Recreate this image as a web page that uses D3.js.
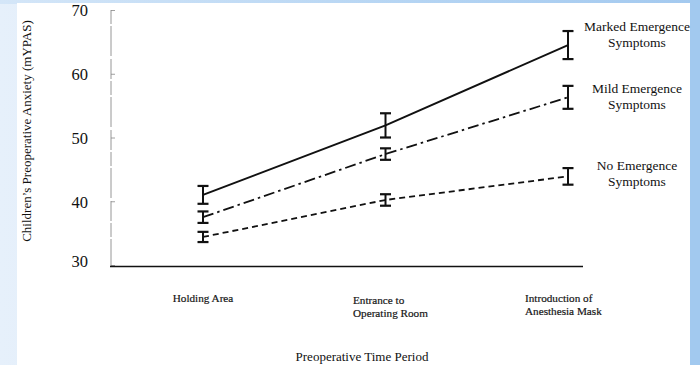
<!DOCTYPE html>
<html>
<head>
<meta charset="utf-8">
<script src="https://cdn.jsdelivr.net/npm/d3@7"></script>
<style>
  html, body { margin: 0; padding: 0; }
  body { width: 700px; height: 365px; overflow: hidden; background: #cfe3f7; }
  svg { display: block; }
  text { font-family: "Liberation Serif", "Times New Roman", serif; fill: #111; }
</style>
</head>
<body>
<svg id="chart" width="700" height="365"></svg>
<script>
const categories = ["Holding Area", "Entrance to Operating Room", "Introduction of Anesthesia Mask"];
const categoryLines = [["Holding Area"], ["Entrance to", "Operating Room"], ["Introduction of", "Anesthesia Mask"]];
const seriesNames = ["Marked Emergence Symptoms", "Mild Emergence Symptoms", "No Emergence Symptoms"];
const seriesLabelLines = [["Marked Emergence", "Symptoms"], ["Mild Emergence", "Symptoms"], ["No Emergence", "Symptoms"]];
const markedValues = [41.0, 51.9, 64.5];
const markedErrors = [1.4, 1.9, 2.2];
const mildValues = [37.5, 47.4, 56.3];
const mildErrors = [0.9, 0.9, 1.8];
const noValues = [34.4, 40.2, 43.9];
const noErrors = [0.8, 0.9, 1.3];
const yTicks = [30, 40, 50, 60, 70];
const yTitle = "Children\u2019s Preoperative Anxiety (mYPAS)";
const xTitle = "Preoperative Time Period";

const svg = d3.select("#chart");

// background slide decoration
const defs = svg.append("defs");
const lg = defs.append("linearGradient").attr("id", "leftg").attr("x1", 0).attr("x2", 1).attr("y1", 0).attr("y2", 0);
lg.append("stop").attr("offset", "0%").attr("stop-color", "#e6f0fb");
lg.append("stop").attr("offset", "100%").attr("stop-color", "#c9def4");
const tg = defs.append("linearGradient").attr("id", "topg").attr("x1", 0).attr("x2", 1).attr("y1", 0).attr("y2", 0);
tg.append("stop").attr("offset", "0%").attr("stop-color", "#d4e6f8");
tg.append("stop").attr("offset", "60%").attr("stop-color", "#b4d4f3");
tg.append("stop").attr("offset", "100%").attr("stop-color", "#a3c9ef");
svg.append("rect").attr("x", 0).attr("y", 0).attr("width", 700).attr("height", 365).attr("fill", "url(#leftg)");
svg.append("rect").attr("x", 0).attr("y", 0).attr("width", 700).attr("height", 4).attr("fill", "url(#topg)");
svg.append("rect").attr("x", 690).attr("y", 0).attr("width", 10).attr("height", 365).attr("fill", "#a2c9ef");
svg.append("rect").attr("x", 17).attr("y", 3).attr("width", 673).attr("height", 362).attr("fill", "#ffffff");

const plot = { left: 111, right: 583, top: 10, bottom: 265 };

const x = d3.scalePoint().domain(categories).range([203, 568]);
const y = d3.scaleLinear().domain([30, 70]).range([plot.bottom, plot.top]);

// y axis (faint scanned line)
svg.append("line")
  .attr("x1", plot.left).attr("x2", plot.left)
  .attr("y1", y(70)).attr("y2", y(30) + 1)
  .attr("stroke", "#8a8a8a").attr("stroke-width", 0.9)
  .attr("stroke-dasharray", "14,2,30,3,20,2");

const yAxis = d3.axisRight(y).tickValues(yTicks).tickSize(4).tickFormat("");
const gy = svg.append("g").attr("transform", `translate(${plot.left},0)`).call(yAxis);
gy.select(".domain").remove();
gy.selectAll(".tick line").attr("stroke", "#888").attr("stroke-width", 0.8);

// y tick labels
svg.append("g").selectAll("text").data(yTicks).join("text")
  .attr("x", 88).attr("y", d => y(d) + (d === 30 ? -2 : 2.5))
  .attr("text-anchor", "end").attr("dominant-baseline", "middle")
  .attr("font-size", 16.5).text(d => d);

// x axis
svg.append("line")
  .attr("x1", plot.left - 1).attr("x2", plot.right)
  .attr("y1", 266.5).attr("y2", 266.5)
  .attr("stroke", "#111").attr("stroke-width", 1.4);

// y title
svg.append("text")
  .attr("transform", `translate(31,131) rotate(-90)`)
  .attr("text-anchor", "middle").attr("font-size", 13)
  .text(yTitle);

// x title
svg.append("text")
  .attr("x", 362).attr("y", 361)
  .attr("text-anchor", "middle").attr("font-size", 13)
  .text(xTitle);

// category labels
const catPos = [
  { x: 203, anchor: "middle", y: 302 },
  { x: 353, anchor: "start", y: 304 },
  { x: 525, anchor: "start", y: 302 }
];
categoryLines.forEach((lines, i) => {
  const p = catPos[i];
  const t = svg.append("text").attr("font-size", 11.2).attr("text-anchor", p.anchor)
    .attr("stroke", "#222").attr("stroke-width", 0.2);
  lines.forEach((ln, j) => {
    t.append("tspan").attr("x", p.x).attr("y", p.y + j * 12.5).text(ln);
  });
});

// series
const series = [
  { name: seriesNames[0], values: markedValues, errors: markedErrors, dash: null, width: 2 },
  { name: seriesNames[1], values: mildValues, errors: mildErrors, dash: "11,4,2.5,4", width: 1.8 },
  { name: seriesNames[2], values: noValues, errors: noErrors, dash: "6,4", width: 1.8 }
];

const line = d3.line().x(d => x(d.c)).y(d => y(d.v));

series.forEach(s => {
  const pts = categories.map((c, i) => ({ c, v: s.values[i], e: s.errors[i] }));
  svg.append("path").datum(pts)
    .attr("d", line).attr("fill", "none")
    .attr("stroke", "#111").attr("stroke-width", s.width)
    .attr("stroke-dasharray", s.dash);
  const eb = svg.append("g");
  pts.forEach(p => {
    const cx = x(p.c), top = y(p.v + p.e), bot = y(p.v - p.e);
    const cap = 11;
    eb.append("line").attr("x1", cx).attr("x2", cx).attr("y1", top).attr("y2", bot)
      .attr("stroke", "#111").attr("stroke-width", 2);
    [top, bot].forEach(yy => {
      eb.append("line").attr("x1", cx - cap / 2).attr("x2", cx + cap / 2).attr("y1", yy).attr("y2", yy)
        .attr("stroke", "#111").attr("stroke-width", 2.2);
    });
  });
});

// series labels
const labelY = [27, 89, 166];
seriesLabelLines.forEach((lines, i) => {
  const t = svg.append("text").attr("font-size", 13.5).attr("text-anchor", "middle");
  lines.forEach((ln, j) => {
    t.append("tspan").attr("x", 637).attr("y", labelY[i] + 4 + j * 15.5).text(ln);
  });
});
</script>
</body>
</html>
